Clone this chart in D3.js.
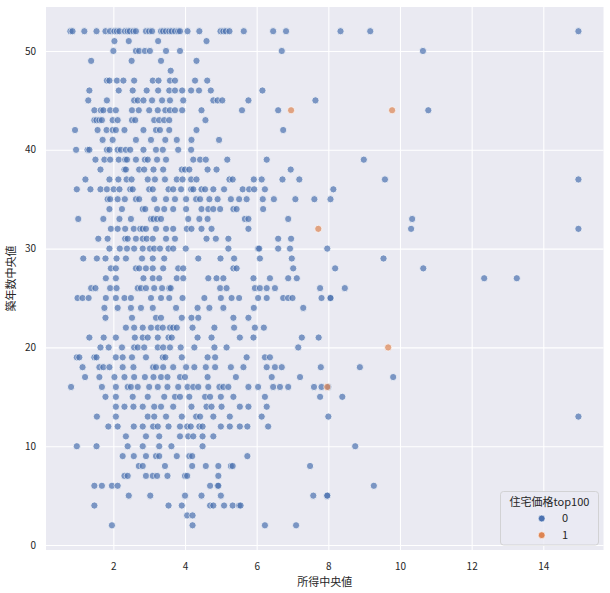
<!DOCTYPE html>
<html><head><meta charset="utf-8">
<script src="https://cdn.jsdelivr.net/npm/d3@7"></script>
<style>body{margin:0;background:#fff}svg{display:block}text{font-family:"Noto Sans CJK JP","Noto Sans",sans-serif}</style>
</head><body><svg id="c" width="610" height="593"></svg>
<script>
// ---- data (所得中央値 by 築年数中央値, top100=0) ----
const incomeByAgeTop0 = [
 [52,[0.80,0.86,1.19,1.53,1.78,1.91,2.03,2.10,2.17,2.32,2.40,2.46,2.56,2.63,2.91,3.00,3.08,3.33,3.39,3.47,3.56,3.63,3.72,3.81,3.86,4.07,4.40,4.99,5.07,5.14,5.24,5.64,6.46,6.82,8.34,9.17,14.98]],
 [51,[2.03,2.43,3.25,4.60]],
 [50,[2.00,2.63,2.72,2.88,3.02,3.47,3.86,6.70,10.64]],
 [49,[1.38,2.51,3.33,4.32]],
 [48,[3.60]],
 [47,[1.82,1.89,2.10,2.28,2.58,3.10,3.26,3.58,3.72,4.28,4.62]],
 [46,[1.33,2.15,2.54,2.93,3.25,3.56,3.72,3.92,4.17,4.39,4.72,6.16]],
 [45,[1.30,1.82,2.58,2.68,2.84,3.08,3.36,3.58,3.95,4.79,4.91,5.04,5.77,7.64]],
 [44,[1.47,1.65,1.72,1.91,2.07,2.52,2.71,3.00,3.24,3.45,3.58,3.72,3.92,4.46,5.59,6.60,10.79]],
 [43,[1.47,1.53,1.61,1.68,1.98,2.12,2.52,2.61,3.14,3.28,3.42,3.56,4.57]],
 [42,[0.93,1.56,1.81,1.98,2.07,2.31,2.84,3.19,3.30,3.56,4.32,6.74]],
 [41,[1.70,1.98,2.63,3.05,3.45,3.77,4.18,4.95]],
 [40,[0.96,1.28,1.33,1.82,1.89,2.12,2.21,2.35,2.47,2.84,3.19,3.38,3.81,4.17]],
 [39,[1.50,1.75,1.91,2.15,2.33,2.38,2.63,2.88,2.96,3.22,3.47,4.23,4.42,4.58,5.18,6.28,8.99]],
 [38,[1.64,2.31,2.35,2.72,2.86,3.12,3.39,3.91,4.00,4.12,4.63,4.88,6.95]],
 [37,[1.22,1.89,2.14,2.37,2.51,2.96,3.16,3.44,3.77,3.93,4.17,4.32,5.24,5.33,5.92,6.14,6.72,7.19,9.58,14.98]],
 [36,[0.98,1.36,1.64,1.82,2.01,2.17,2.47,2.54,3.00,3.10,3.54,3.67,3.89,4.17,4.23,4.46,4.56,4.79,5.09,5.61,5.79,5.93,6.23,8.14]],
 [35,[1.84,1.91,2.12,2.32,2.63,2.72,3.14,3.47,3.72,4.03,4.31,4.42,4.68,4.91,5.28,5.51,5.72,6.17,6.48,7.08,7.61,8.06]],
 [34,[1.89,2.24,2.82,2.89,3.22,3.42,3.67,4.03,4.46,4.65,4.79,4.98,5.35,5.44,6.18]],
 [33,[1.02,1.72,2.17,2.49,3.05,3.12,3.22,3.33,4.09,4.40,4.63,5.67,5.77,6.88,10.34]],
 [32,[1.93,2.12,2.33,2.57,2.75,2.82,2.91,3.19,3.47,3.67,4.05,4.18,4.46,4.74,5.77,10.31,14.98]],
 [31,[1.58,1.84,2.33,2.40,2.63,2.82,2.93,3.10,3.47,3.72,4.60,4.86,5.21,6.60,6.96]],
 [30,[1.89,2.18,2.38,2.58,2.82,3.02,3.14,3.30,3.54,3.67,4.02,5.21,6.04,6.07,6.60,6.93,7.97]],
 [29,[1.16,1.54,1.78,2.09,2.35,2.80,3.10,3.42,4.37,4.99,5.37,6.09,6.98,9.54]],
 [28,[1.93,2.07,2.63,2.72,2.91,3.10,3.39,3.81,3.95,5.35,5.44,7.02,8.19,10.65]],
 [27,[1.79,2.07,2.84,3.10,3.28,3.77,3.95,4.65,4.88,5.07,5.91,6.37,6.88,7.12,12.35,13.26]],
 [26,[1.38,1.50,1.91,2.09,2.68,2.77,2.91,3.14,3.36,3.56,3.60,4.98,5.16,5.95,6.09,6.28,6.51,7.77,8.46]],
 [25,[1.00,1.14,1.31,1.79,2.07,2.31,2.49,3.05,3.33,3.56,3.93,4.54,5.00,5.30,5.51,6.04,6.28,6.74,6.88,7.00,7.81,8.06,8.06]],
 [24,[1.75,2.12,2.49,2.77,3.10,3.75,4.35,4.68,5.07,5.92,7.30]],
 [23,[1.78,2.52,3.19,3.33,3.91,4.18,4.37,5.35,5.77]],
 [22,[2.35,2.58,2.82,3.05,3.24,3.38,3.58,3.67,3.77,4.21,4.82,5.37,5.95,6.20]],
 [21,[1.33,1.73,2.07,2.60,2.82,2.96,3.24,3.54,3.63,4.35,4.74,5.53,5.91,7.26,7.73]],
 [20,[1.64,1.87,2.24,2.58,2.68,2.86,3.24,3.39,3.58,3.88,4.26,4.82,5.16,7.16]],
 [19,[0.98,1.05,1.47,1.53,2.07,2.26,2.52,2.91,3.38,3.45,3.91,4.63,4.84,5.72,6.23,6.37]],
 [18,[1.14,1.61,1.72,1.89,2.26,2.56,3.11,3.19,3.39,3.67,4.03,4.26,4.58,4.84,5.28,5.63,6.28,6.51,6.70,7.79,8.88]],
 [17,[1.21,1.61,2.03,2.31,2.58,2.88,3.12,3.33,3.51,3.86,4.00,4.63,5.42,6.42,7.21,9.81]],
 [16,[0.82,1.68,2.07,2.40,2.49,2.68,3.00,3.24,3.51,3.81,4.07,4.23,4.37,4.65,4.96,5.07,5.21,5.77,6.04,6.46,6.65,6.88,7.60,7.81,8.00]],
 [15,[1.78,2.07,2.54,2.96,3.42,3.72,3.86,4.12,4.56,4.70,5.00,5.35,6.23,7.77,8.39]],
 [14,[2.07,2.31,2.56,2.82,3.14,3.33,3.67,4.18,4.60,4.74,5.02,5.53,5.77,6.28]],
 [13,[1.54,2.07,2.96,3.14,3.47,3.91,4.31,4.42,4.79,5.25,6.14,8.00,14.98]],
 [12,[1.86,2.12,2.57,2.82,3.11,3.24,3.54,3.86,4.06,4.16,4.40,4.49,5.00,5.25,5.53,5.74,6.32]],
 [11,[2.35,2.91,3.28,3.86,4.09,4.23,4.49,4.79]],
 [10,[0.98,1.53,2.40,2.82,3.28,3.62,4.49,8.75]],
 [9,[2.26,2.57,2.91,3.19,3.28,3.77,4.12,4.20,5.74]],
 [8,[2.71,2.82,3.44,4.20,4.58,4.93,5.28,5.33,7.49]],
 [7,[2.31,2.40,2.91,3.10,3.22,3.51,4.00,4.06,4.93]],
 [6,[1.47,1.68,1.96,2.12,4.70,4.91,4.93,9.27]],
 [5,[2.43,3.03,4.00,4.46,5.00,7.58,7.97,7.97]],
 [4,[1.47,3.54,3.91,4.70,4.79,5.09,5.33,5.51,5.55]],
 [3,[4.06,4.21]],
 [2,[1.96,4.21,6.23,7.10]]
];
// top100 = 1
const top1Income = [6.96, 9.78, 7.72, 9.67, 7.97];
const top1Age    = [44,   44,   32,   20,   16];

const xTicks = [2,4,6,8,10,12,14];
const yTicks = [0,10,20,30,40,50];
const legendTitle = "住宅価格top100";
const legendLabels = ["0","1"];
const xLabel = "所得中央値";
const yLabel = "築年数中央値";
const colors = ["#4C72B0","#DD8452"];

// ---- layout ----
const L=46, R=603.5, T=7, B=550;
const svg = d3.select("#c");
const x = d3.scaleLinear().domain([0.12,15.68]).range([L,R]);
const y = d3.scaleLinear().domain([-0.5,54.45]).range([B,T]);

svg.append("rect").attr("x",L).attr("y",T).attr("width",R-L).attr("height",B-T).attr("fill","#EAEAF2");

const gx = svg.append("g").attr("transform",`translate(0,${B})`)
  .call(d3.axisBottom(x).tickValues(xTicks).tickSize(-(B-T)).tickPadding(12.5).tickFormat(d3.format("d")));
const gy = svg.append("g").attr("transform",`translate(${L},0)`)
  .call(d3.axisLeft(y).tickValues(yTicks).tickSize(-(R-L)).tickPadding(10).tickFormat(d3.format("d")));
[gx,gy].forEach(g=>{
  g.select(".domain").remove();
  g.selectAll(".tick line").attr("stroke","#fff").attr("stroke-width",1.1);
  g.selectAll(".tick text").attr("fill","#262626").style("font-size","10px");
});

svg.append("text").attr("x",(L+R)/2).attr("y",586).attr("text-anchor","middle")
  .attr("fill","#262626").style("font-size","11px").text(xLabel);
svg.append("text").attr("transform",`translate(15,${(T+B)/2}) rotate(-90)`).attr("text-anchor","middle")
  .attr("fill","#262626").style("font-size","11px").text(yLabel);

const pts0 = incomeByAgeTop0.flatMap(([a,xs])=>xs.map(v=>({x:v,y:a})));
const pts1 = top1Income.map((v,i)=>({x:v,y:top1Age[i]}));

const plot = svg.append("g");
plot.selectAll("circle.p0").data(pts0).join("circle").attr("class","p0")
  .attr("cx",d=>x(d.x)).attr("cy",d=>y(d.y)).attr("r",3.6)
  .attr("fill",colors[0]).attr("stroke","#fff").attr("stroke-width",0.8).attr("opacity",0.7);
plot.selectAll("circle.p1").data(pts1).join("circle").attr("class","p1")
  .attr("cx",d=>x(d.x)).attr("cy",d=>y(d.y)).attr("r",3.6)
  .attr("fill",colors[1]).attr("stroke","#fff").attr("stroke-width",0.8).attr("opacity",0.7);

// legend
const lg = svg.append("g");
lg.append("rect").attr("x",500.5).attr("y",491.5).attr("width",98).attr("height",53.5).attr("rx",3)
  .attr("fill","#EAEAF2").attr("fill-opacity",0.8).attr("stroke","#cccccc").attr("stroke-width",0.8);
lg.append("text").attr("x",549.5).attr("y",505.5).attr("text-anchor","middle").attr("fill","#262626")
  .style("font-size","11px").text(legendTitle);
legendLabels.forEach((lab,i)=>{
  lg.append("circle").attr("cx",541.7).attr("cy",518.5+i*16.7).attr("r",3.4).attr("fill",colors[i]).attr("stroke","#fff").attr("stroke-width",0.6);
  lg.append("text").attr("x",565).attr("y",522+i*16.7).attr("text-anchor","middle").attr("fill","#262626")
    .style("font-size","11px").text(lab);
});
</script></body></html>
